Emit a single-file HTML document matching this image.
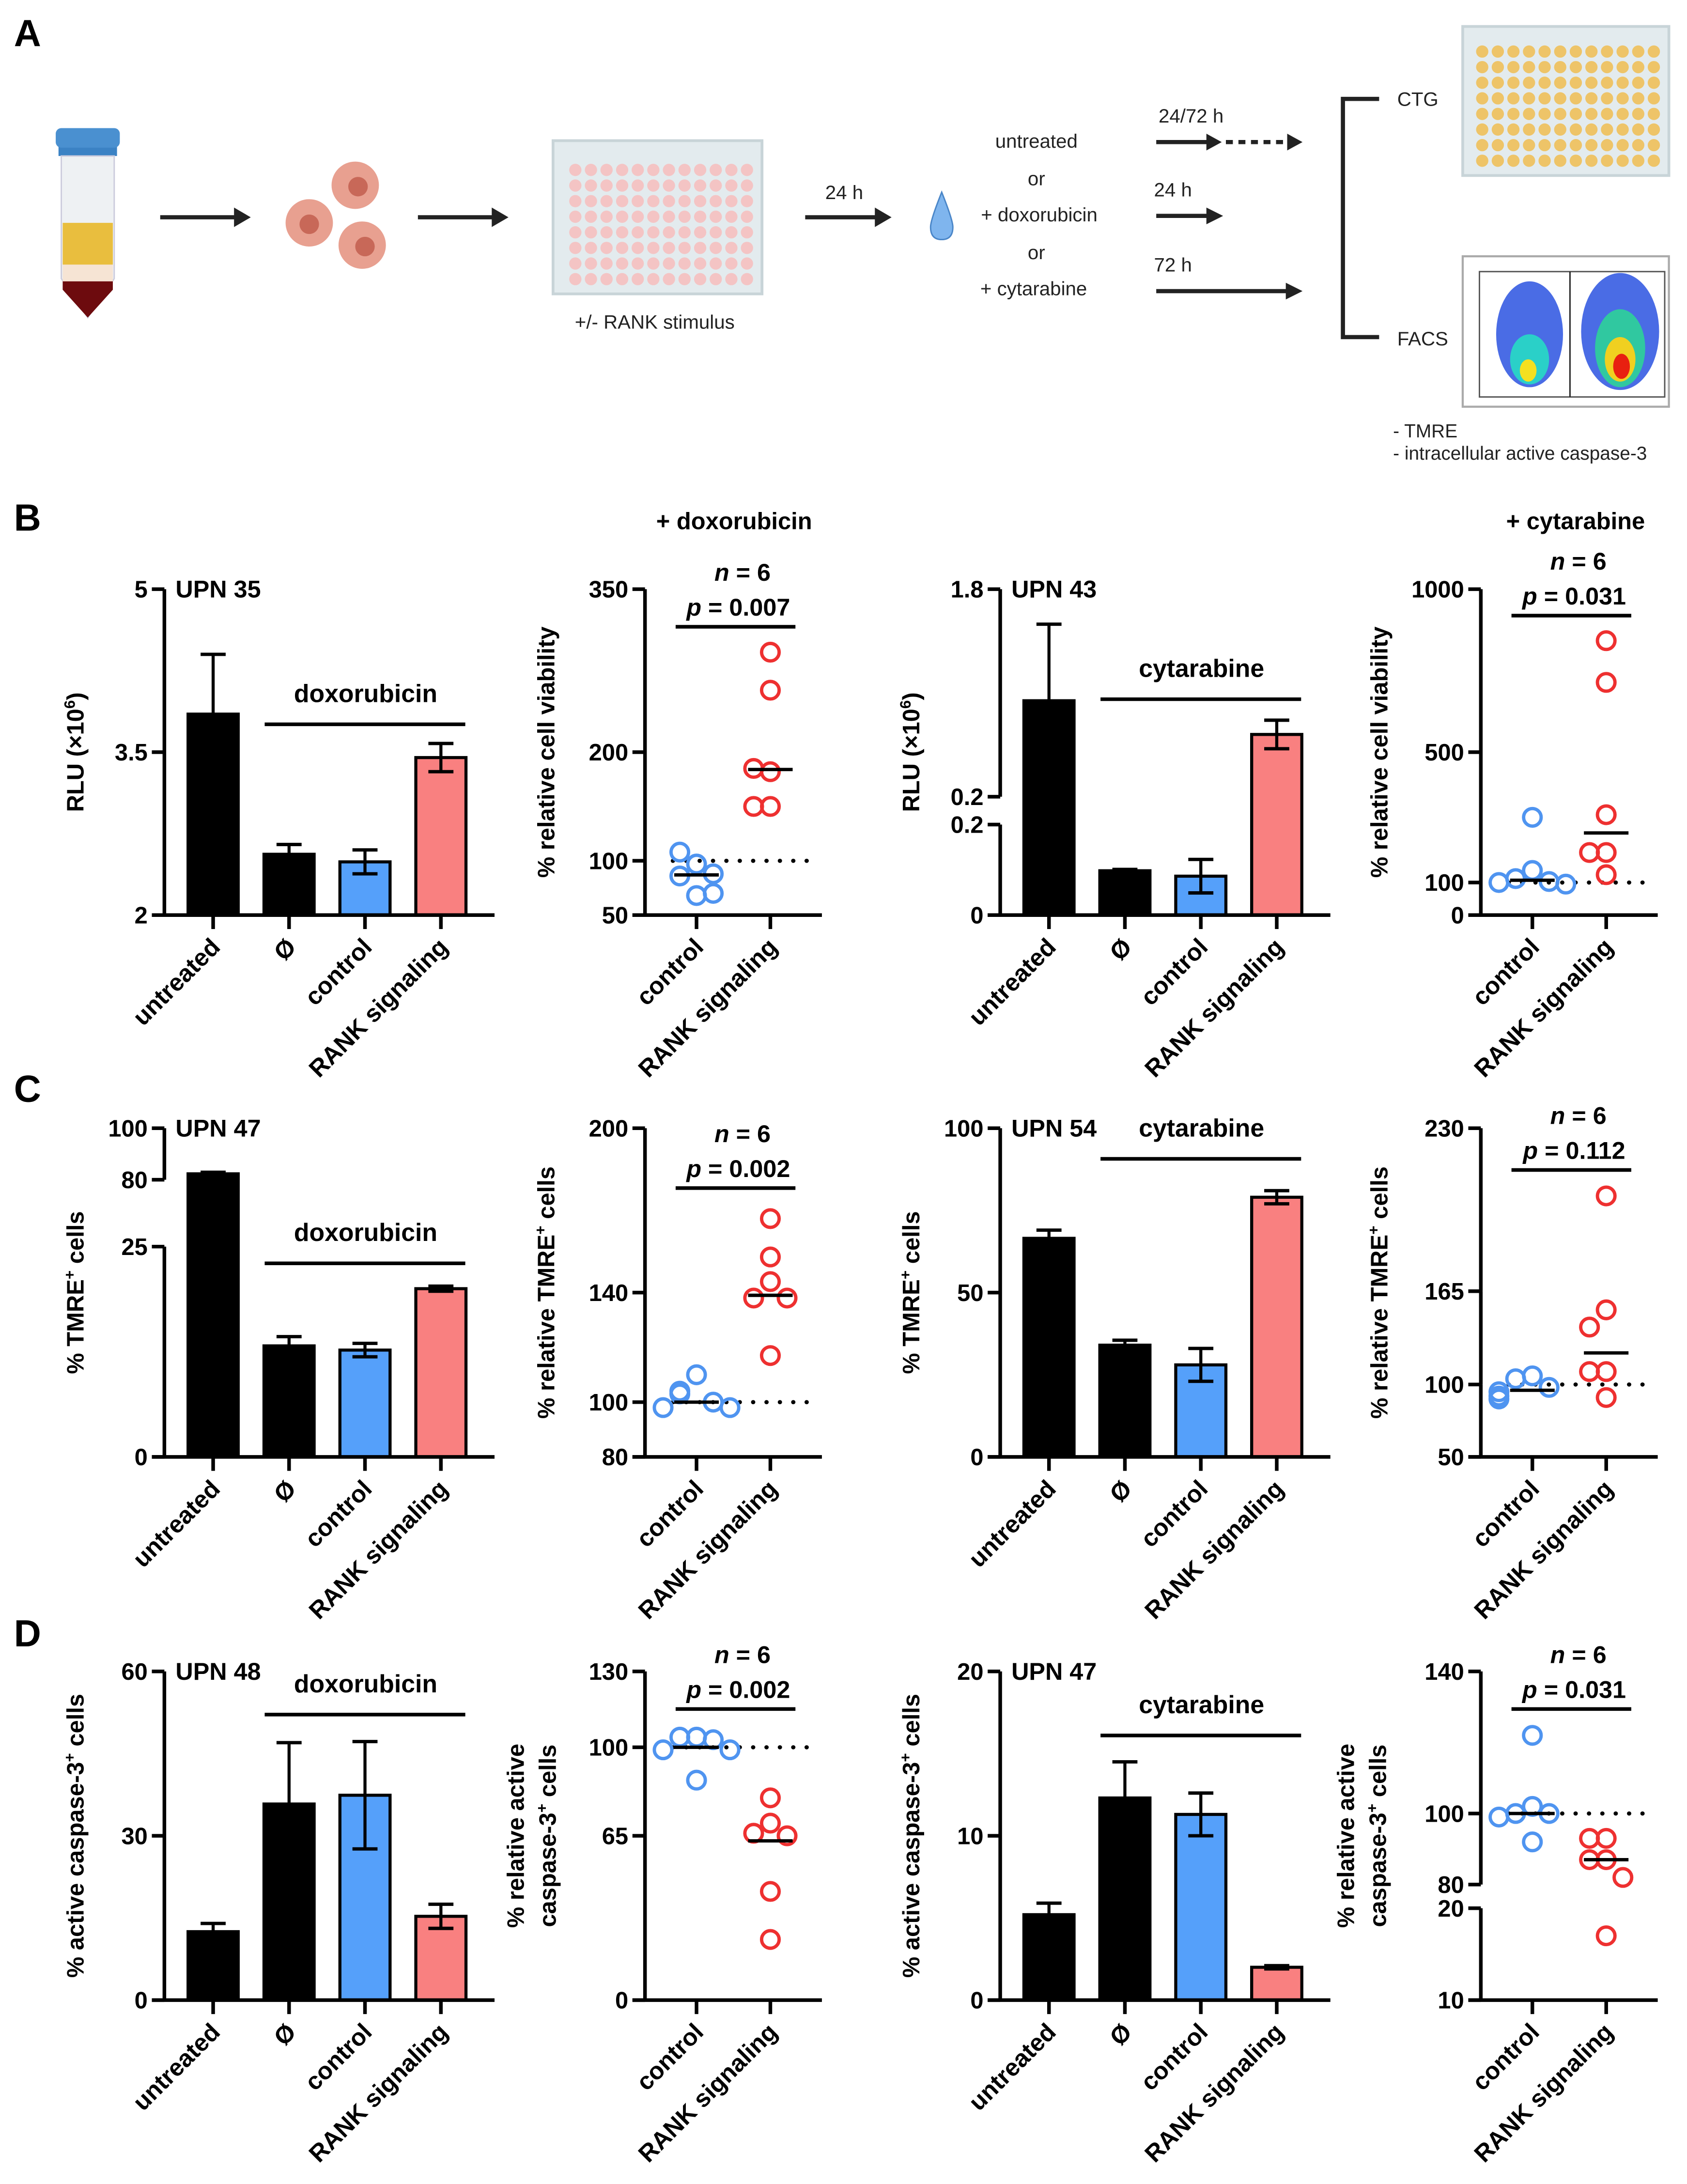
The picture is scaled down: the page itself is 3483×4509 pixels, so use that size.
<!DOCTYPE html>
<html><head><meta charset="utf-8">
<style>
html,body{margin:0;padding:0;background:#fff;}
svg{display:block;}
.t{font-family:"Liberation Sans Narrow","Liberation Sans",sans-serif;font-weight:bold;fill:#000;}
.a{font-family:"Liberation Sans",sans-serif;font-weight:bold;fill:#000;}
.s{font-family:"Liberation Sans Narrow","Liberation Sans",sans-serif;fill:#222;}
</style></head>
<body>
<svg id="fig" xmlns="http://www.w3.org/2000/svg" width="3483" height="4509" viewBox="0 0 1211 1568" preserveAspectRatio="none">
<rect width="1211" height="1568" fill="#fff"/>
<g>
<text x="10" y="33" class="a" font-size="27">A</text>
<g>
<rect x="42" y="100" width="42" height="12" fill="#3b82c4"/>
<rect x="40" y="92" width="46" height="14" rx="4" fill="#4a90d0"/>
<path d="M44 112 L82 112 L82 200 L63 228 L44 200 Z" fill="#eef1f3" stroke="#ccd" stroke-width="1"/>
<rect x="45" y="160" width="36" height="30" fill="#e9be3e"/>
<rect x="45" y="190" width="36" height="12" fill="#f6e4d4"/>
<path d="M45 202 L81 202 L81 208 L63 228 L45 208 Z" fill="#6d0b0e"/>
</g>
<g><line x1="115" y1="156" x2="170" y2="156" stroke="#222" stroke-width="3"/><path d="M168 149 L180 156 L168 163 Z" fill="#222"/></g>
<g>
<circle cx="255" cy="133" r="17" fill="#e8a090"/><circle cx="257" cy="134" r="7" fill="#c86858"/>
<circle cx="222" cy="160" r="17" fill="#e8a090"/><circle cx="222" cy="161" r="7" fill="#c86858"/>
<circle cx="260" cy="176" r="17" fill="#e8a090"/><circle cx="262" cy="177" r="7" fill="#c86858"/>
</g>
<g><line x1="300" y1="156" x2="355" y2="156" stroke="#222" stroke-width="3"/><path d="M353 149 L365 156 L353 163 Z" fill="#222"/></g>
<g id="plate1"><rect x="397" y="101" width="150" height="110" fill="#e3ebee" stroke="#c8d4d8" stroke-width="2"/></g>
<text x="470" y="236" class="s" font-size="14" text-anchor="middle">+/- RANK stimulus</text>
<text x="606" y="143" class="s" font-size="14" text-anchor="middle">24 h</text>
<g><line x1="578" y1="156" x2="630" y2="156" stroke="#222" stroke-width="3"/><path d="M628 149 L640 156 L628 163 Z" fill="#222"/></g>
<path d="M676 138 Q668 158 668 163 Q668 172 676 172 Q684 172 684 163 Q684 158 676 138 Z" fill="#7fb5ee" stroke="#4a86c8"/>
<g class="s" font-size="14" text-anchor="middle">
<text x="744" y="106">untreated</text><text x="744" y="133">or</text><text x="746" y="159">+ doxorubicin</text><text x="744" y="186">or</text><text x="742" y="212">+ cytarabine</text>
</g>
<g>
<text x="855" y="88" class="s" font-size="14" text-anchor="middle">24/72 h</text>
<line x1="830" y1="102" x2="868" y2="102" stroke="#222" stroke-width="3"/><path d="M866 96 L877 102 L866 108 Z" fill="#222"/>
<line x1="880" y1="102" x2="925" y2="102" stroke="#222" stroke-width="3" stroke-dasharray="5,4"/><path d="M924 96 L935 102 L924 108 Z" fill="#222"/>
<text x="842" y="141" class="s" font-size="14" text-anchor="middle">24 h</text>
<line x1="830" y1="155" x2="868" y2="155" stroke="#222" stroke-width="3"/><path d="M866 149 L878 155 L866 161 Z" fill="#222"/>
<text x="842" y="195" class="s" font-size="14" text-anchor="middle">72 h</text>
<line x1="830" y1="209" x2="925" y2="209" stroke="#222" stroke-width="3"/><path d="M923 203 L935 209 L923 215 Z" fill="#222"/>
</g>
<path d="M990 71 L964 71 L964 242 L990 242" fill="none" stroke="#222" stroke-width="3"/>
<text x="1003" y="76" class="s" font-size="14">CTG</text>
<text x="1003" y="248" class="s" font-size="14">FACS</text>
<g id="plate2"><rect x="1050" y="19" width="148" height="107" fill="#e3ebee" stroke="#c8d4d8" stroke-width="2"/></g>
<g>
<rect x="1050" y="184" width="148" height="108" fill="#fff" stroke="#aaa" stroke-width="1.5"/>
<rect x="1062" y="195" width="133" height="90" fill="#fff" stroke="#555" stroke-width="1"/>
<ellipse cx="1098" cy="240" rx="24" ry="38" fill="#2a52e0" opacity="0.85"/>
<ellipse cx="1098" cy="258" rx="14" ry="18" fill="#2ad0c8"/>
<ellipse cx="1097" cy="266" rx="6" ry="8" fill="#f4e020"/>
<ellipse cx="1163" cy="238" rx="28" ry="42" fill="#2a52e0" opacity="0.85"/>
<ellipse cx="1163" cy="250" rx="18" ry="28" fill="#30c8a0"/>
<ellipse cx="1163" cy="258" rx="11" ry="16" fill="#f0d020"/>
<ellipse cx="1164" cy="263" rx="6" ry="9" fill="#e82010"/>
<line x1="1127" y1="195" x2="1127" y2="285" stroke="#222" stroke-width="1"/>
</g>
<text x="1000" y="314" class="s" font-size="13.5">- TMRE</text>
<text x="1000" y="330" class="s" font-size="13.5">- intracellular active caspase-3</text>
</g>
<text x="10" y="381" class="a" font-size="27">B</text>
<text x="10" y="791" class="a" font-size="27">C</text>
<text x="10" y="1182" class="a" font-size="27">D</text>
<text x="527" y="380" class="t" font-size="17" text-anchor="middle">+ doxorubicin</text>
<text x="1131" y="380" class="t" font-size="17" text-anchor="middle">+ cytarabine</text>
<g id="charts"></g>
</svg>
<script>
// ---------- data ----------
const barCategories = ["untreated", "Ø", "control", "RANK signaling"];
const dotCategories = ["control", "RANK signaling"];
// Panel B
const b1Values = [3.85, 2.56, 2.49, 3.45];
const b1Errors = [0.55, 0.09, 0.11, 0.13];
const b2Control = [97, 108, 86, 88, 68, 70];
const b2Rank = [292, 257, 182, 185, 150, 150];
const b3Values = [0.94, 0.098, 0.086, 0.68];
const b3Errors = [0.59, 0.003, 0.037, 0.11];
const b4Control = [300, 137, 112, 103, 100, 95];
const b4Rank = [842, 714, 308, 192, 192, 124];
// Panel C
const c1Values = [82.3, 13.2, 12.7, 20.0];
const c1Errors = [0.6, 1.1, 0.8, 0.3];
const c2Control = [110, 104, 103, 100, 98, 98];
const c2Rank = [167, 153, 144, 138, 138, 117];
const c3Values = [66.5, 34, 28, 79];
const c3Errors = [2.5, 1.5, 5, 2];
const c4Control = [106, 104, 98, 95, 92, 90];
const c4Rank = [203, 152, 140, 109, 109, 91];
// Panel D
const d1Values = [12.5, 35.8, 37.4, 15.3];
const d1Errors = [1.5, 11.2, 9.8, 2.2];
const d2Control = [104, 104, 103, 99, 99, 87];
const d2Rank = [80, 70, 66, 65, 43, 24];
const d3Values = [5.2, 12.3, 11.3, 2.0];
const d3Errors = [0.7, 2.2, 1.3, 0.1];
const d4Control = [122, 102, 100, 100, 99, 92];
const d4Rank = [93, 93, 87, 87, 82, 17];
// medians
const b2Medians = [87, 184]; const b4Medians = [107, 252];
const c2Medians = [100, 139]; const c4Medians = [96, 122];
const d2Medians = [100, 63]; const d4Medians = [100, 87];
// tick labels
const b1Ticks = [2, 3.5, 5]; const b2Ticks = [50, 100, 200, 350];
const b3Ticks = [0, 0.2, 0.2, 1.8]; const b4Ticks = [0, 100, 500, 1000];
const c1Ticks = [0, 25, 80, 100]; const c2Ticks = [80, 100, 140, 200];
const c3Ticks = [0, 50, 100]; const c4Ticks = [50, 100, 165, 230];
const d1Ticks = [0, 30, 60]; const d2Ticks = [0, 65, 100, 130];
const d3Ticks = [0, 10, 20]; const d4Ticks = [10, 20, 80, 100, 140];

const NS = "http://www.w3.org/2000/svg";
const root = document.getElementById("charts");
function mk(tag, attrs, parent) {
  const e = document.createElementNS(NS, tag);
  for (const k in attrs) e.setAttribute(k, attrs[k]);
  (parent || root).appendChild(e);
  return e;
}
function makeScale(segs) {
  return function (v) {
    let s = segs[0];
    for (const sg of segs) if (v >= sg.d[0] - 1e-9) s = sg;
    return s.r[0] + (v - s.d[0]) / (s.d[1] - s.d[0]) * (s.r[1] - s.r[0]);
  };
}
function drawAxis(g, ax, right, bottom, segs, ticks, yscale, xs, labels) {
  segs.forEach(sg => {
    const l = mk("line", {x1: ax, y1: sg.r[0], x2: ax, y2: sg.r[1], stroke: "#000", "stroke-width": 2.6}, g);
    
    
  });
  const xl = mk("line", {x1: ax - 9, y1: bottom, x2: right, y2: bottom, stroke: "#000", "stroke-width": 2.6}, g);
  
  
  ticks.forEach((t, i) => {
    let y;
    const segHit = segs.filter(sg => sg.d[0] === t || sg.d[1] === t);
    if (segHit.length > 1) { y = (ticks.indexOf(t) === i) ? segHit[0].r[1] : segHit[1].r[0]; }
    else y = yscale(t);
    mk("line", {x1: ax - 9, y1: y, x2: ax, y2: y, stroke: "#000", "stroke-width": 2.6}, g);
    const tx = mk("text", {x: ax - 12, y: y + 6, "text-anchor": "end", "font-size": 17, class: "t"}, g);
    tx.textContent = t;
    
    
  });
  xs.forEach((x, i) => {
    mk("line", {x1: x, y1: bottom, x2: x, y2: bottom + 10, stroke: "#000", "stroke-width": 2.6}, g);
    const tx = mk("text", {x: x + 6, y: bottom + 24, "text-anchor": "end", "font-size": 17.5, class: "a",
      transform: "rotate(-45 " + (x + 6) + " " + (bottom + 24) + ")"}, g);
    tx.textContent = labels[i];
    
    
  });
}
function yTitle(g, x, cy, lines) {
  lines.forEach((ln, i) => {
    const t = mk("text", {x: x + i * 23, y: cy, "text-anchor": "middle", "font-size": 17, class: "a",
      transform: "rotate(-90 " + (x + i * 23) + " " + cy + ")"}, g);
    t.innerHTML = ln;
    
    
  });
}
const barFill = ["#000", "#000", "#55a0fa", "#f98080"];
function barChart(o) {
  const g = mk("g", {});
  
  
  const y = makeScale(o.segs);
  const bottom = o.segs[0].r[0];
  const xs = barCategories.map((c, i) => o.ax + 35 + i * 54.5);
  o.values.forEach((v, i) => {
    const top = y(v);
    const r = mk("rect", {x: xs[i] - 18, y: top, width: 36, height: bottom - top, fill: barFill[i], stroke: "#000", "stroke-width": 2.2}, g);
    
    
    const hi = y(v + o.errors[i]), lo = y(v - o.errors[i]);
    mk("line", {x1: xs[i], y1: hi, x2: xs[i], y2: lo, stroke: "#000", "stroke-width": 2.2}, g);
    mk("line", {x1: xs[i] - 9, y1: hi, x2: xs[i] + 9, y2: hi, stroke: "#000", "stroke-width": 2.4}, g);
    mk("line", {x1: xs[i] - 9, y1: lo, x2: xs[i] + 9, y2: lo, stroke: "#000", "stroke-width": 2.4}, g);
  });
  if (o.segs.length > 1) {
    for (let k = 1; k < o.segs.length; k++) {
      const a = o.segs[k - 1].r[1], b = o.segs[k].r[0];
      mk("rect", {x: o.ax + 5, y: a + 1.5, width: o.right - o.ax - 5, height: b - a - 3, fill: "#fff"}, g);
    }
  }
  drawAxis(g, o.ax, o.right, bottom, o.segs, o.ticks, y, xs, barCategories);
  const tt = mk("text", {x: o.ax + 8, y: o.segs[o.segs.length - 1].r[1] + 6, "font-size": 17.5, class: "t"}, g);
  tt.textContent = o.title;
  
  
  const dl = mk("text", {x: (o.ax + 72 + o.ax + 217) / 2, y: o.drugY - 10, "text-anchor": "middle", "font-size": 18, class: "t"}, g);
  dl.textContent = o.drug;
  
  
  mk("line", {x1: o.ax + 72, y1: o.drugY + 6, x2: o.ax + 216, y2: o.drugY + 6, stroke: "#000", "stroke-width": 2.6}, g);
  yTitle(g, o.ax - 58, o.titleY, o.ylabel);
}
function dotChart(o) {
  const g = mk("g", {});
  
  
  const y = makeScale(o.segs);
  const bottom = o.segs[0].r[0];
  const xs = [o.ax + 37, o.ax + 90];
  const dy = y(100);
  mk("line", {x1: o.ax + 20, y1: dy, x2: o.ax + 122, y2: dy, stroke: "#000", "stroke-width": 3, "stroke-dasharray": "0.1,9.5", "stroke-linecap": "round"}, g);
  [o.control, o.rank].forEach((arr, gi) => {
    const placed = [];
    const col = gi === 0 ? "#4f94f0" : "#ee3030";
    arr.forEach(v => {
      const py = y(v);
      const near = placed.filter(p => Math.abs(p - py) < 13).length;
      const offs = [0, -12, 12, -24, 24];
      const px = xs[gi] + offs[Math.min(near, 4)];
      placed.push(py);
      const c = mk("circle", {cx: px, cy: py, r: 6.3, fill: "none", stroke: col, "stroke-width": 2.4}, g);
      
      
    });
    const my = y(o.medians[gi]);
    const m = mk("line", {x1: xs[gi] - 16, y1: my, x2: xs[gi] + 16, y2: my, stroke: "#000", "stroke-width": 2.4}, g);
    
    
  });
  drawAxis(g, o.ax, o.ax + 127, bottom, o.segs, o.ticks, y, xs, dotCategories);
  const n = mk("text", {x: o.ax + 70, y: o.statY - 18, "text-anchor": "middle", "font-size": 17.5, class: "t"}, g);
  n.innerHTML = '<tspan font-style="italic">n</tspan> = 6';
  
  
  const p = mk("text", {x: o.ax + 67, y: o.statY + 7, "text-anchor": "middle", "font-size": 17.5, class: "t"}, g);
  p.innerHTML = '<tspan font-style="italic">p</tspan> = ' + o.p;
  
  
  mk("line", {x1: o.ax + 22, y1: o.statY + 15, x2: o.ax + 108, y2: o.statY + 15, stroke: "#000", "stroke-width": 2.6}, g);
  yTitle(g, o.ylx, o.titleY, o.ylabel);
}
const sup = s => '<tspan baseline-shift="super" font-size="11">' + s + '</tspan>';
// Row B
barChart({name: "chart-b-upn35", ax: 118, right: 355, segs: [{d: [2, 5], r: [657, 423]}], ticks: b1Ticks,
  values: b1Values, errors: b1Errors, title: "UPN 35", drug: "doxorubicin", drugY: 514, titleY: 540, ylabel: ["RLU (×10" + sup("6") + ")"]});
dotChart({name: "chart-b-dox-viability", ax: 463, segs: [{d: [50, 350], r: [657, 423]}], ticks: b2Ticks,
  control: b2Control, rank: b2Rank, medians: b2Medians, statY: 435, p: "0.007", ylx: 398, titleY: 540, ylabel: ["% relative cell viability"]});
barChart({name: "chart-b-upn43", ax: 718, right: 955, segs: [{d: [0, 0.2], r: [657, 592]}, {d: [0.2, 1.8], r: [572, 423]}], ticks: b3Ticks,
  values: b3Values, errors: b3Errors, title: "UPN 43", drug: "cytarabine", drugY: 496, titleY: 540, ylabel: ["RLU (×10" + sup("6") + ")"]});
dotChart({name: "chart-b-cyt-viability", ax: 1063, segs: [{d: [0, 1000], r: [657, 423]}], ticks: b4Ticks,
  control: b4Control, rank: b4Rank, medians: b4Medians, statY: 427, p: "0.031", ylx: 996, titleY: 540, ylabel: ["% relative cell viability"]});
// Row C
barChart({name: "chart-c-upn47", ax: 118, right: 355, segs: [{d: [0, 25], r: [1046, 895]}, {d: [80, 100], r: [847, 810]}], ticks: c1Ticks,
  values: c1Values, errors: c1Errors, title: "UPN 47", drug: "doxorubicin", drugY: 901, titleY: 928, ylabel: ["% TMRE" + sup("+") + " cells"]});
dotChart({name: "chart-c-dox-tmre", ax: 463, segs: [{d: [80, 200], r: [1046, 810]}], ticks: c2Ticks,
  control: c2Control, rank: c2Rank, medians: c2Medians, statY: 838, p: "0.002", ylx: 398, titleY: 928, ylabel: ["% relative TMRE" + sup("+") + " cells"]});
barChart({name: "chart-c-upn54", ax: 718, right: 955, segs: [{d: [0, 100], r: [1046, 810]}], ticks: c3Ticks,
  values: c3Values, errors: c3Errors, title: "UPN 54", drug: "cytarabine", drugY: 826, titleY: 928, ylabel: ["% TMRE" + sup("+") + " cells"]});
dotChart({name: "chart-c-cyt-tmre", ax: 1063, segs: [{d: [50, 100], r: [1046, 994]}, {d: [100, 165], r: [994, 927]}, {d: [165, 230], r: [927, 810]}], ticks: c4Ticks,
  control: c4Control, rank: c4Rank, medians: c4Medians, statY: 825, p: "0.112", ylx: 996, titleY: 928, ylabel: ["% relative TMRE" + sup("+") + " cells"]});
// Row D
barChart({name: "chart-d-upn48", ax: 118, right: 355, segs: [{d: [0, 60], r: [1436, 1200]}], ticks: d1Ticks,
  values: d1Values, errors: d1Errors, title: "UPN 48", drug: "doxorubicin", drugY: 1225, titleY: 1318, ylabel: ["% active caspase-3" + sup("+") + " cells"]});
dotChart({name: "chart-d-dox-caspase", ax: 463, segs: [{d: [0, 130], r: [1436, 1200]}], ticks: d2Ticks,
  control: d2Control, rank: d2Rank, medians: d2Medians, statY: 1212, p: "0.002", ylx: 376, titleY: 1318, ylabel: ["% relative active", "caspase-3" + sup("+") + " cells"]});
barChart({name: "chart-d-upn47", ax: 718, right: 955, segs: [{d: [0, 20], r: [1436, 1200]}], ticks: d3Ticks,
  values: d3Values, errors: d3Errors, title: "UPN 47", drug: "cytarabine", drugY: 1240, titleY: 1318, ylabel: ["% active caspase-3" + sup("+") + " cells"]});
dotChart({name: "chart-d-cyt-caspase", ax: 1063, segs: [{d: [10, 20], r: [1436, 1370]}, {d: [80, 140], r: [1353, 1200]}], ticks: d4Ticks,
  control: d4Control, rank: d4Rank, medians: d4Medians, statY: 1212, p: "0.031", ylx: 972, titleY: 1318, ylabel: ["% relative active", "caspase-3" + sup("+") + " cells"]});

function plate(id, x0, y0, cols, rows, dx, dy, col, r) {
  const g = document.getElementById(id);
  for (let i = 0; i < rows; i++) for (let j = 0; j < cols; j++) {
    const c = mk("circle", {cx: x0 + j * dx, cy: y0 + i * dy, r: r, fill: col}, g);
    
    
  }
}
plate("plate1", 413, 122, 12, 8, 11.2, 11.2, "#f4c4c4", 4.4);
plate("plate2", 1064, 37, 12, 8, 11.2, 11.2, "#eec468", 4.4);
</script>
</body></html>
